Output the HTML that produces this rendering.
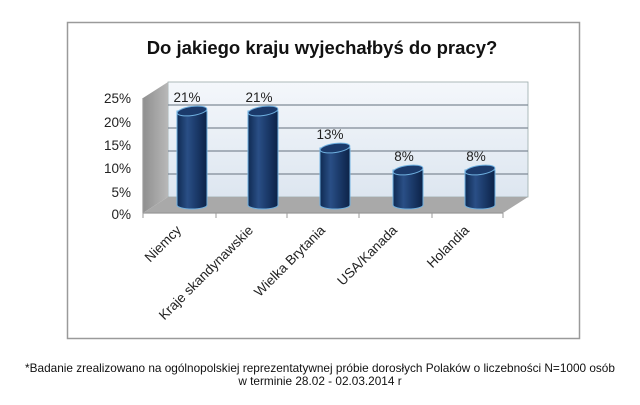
<!DOCTYPE html>
<html><head><meta charset="utf-8"><style>
body{margin:0;background:#fff;width:640px;height:405px;overflow:hidden;font-family:"Liberation Sans",sans-serif}
</style></head><body>
<svg width="640" height="405" xmlns="http://www.w3.org/2000/svg" style="position:absolute;left:0;top:0">
<defs>
<linearGradient id="bar" x1="0" x2="1" y1="0" y2="0">
<stop offset="0" stop-color="#0f2a52"/><stop offset="0.35" stop-color="#2a4f86"/><stop offset="0.6" stop-color="#1d3d6e"/><stop offset="1" stop-color="#0c2247"/></linearGradient>
<linearGradient id="wall" x1="0" x2="0" y1="0" y2="1"><stop offset="0" stop-color="#f4f7fb"/><stop offset="1" stop-color="#dde6f0"/></linearGradient>
<linearGradient id="side" x1="0" x2="1"><stop offset="0" stop-color="#8f8f8f"/><stop offset="1" stop-color="#b8b8b8"/></linearGradient>
</defs>
<rect x="67.5" y="22.5" width="512" height="316" fill="#fff" stroke="#9a9a9a" stroke-width="1.5"/>
<text x="322" y="54" text-anchor="middle" font-size="18.5" font-weight="bold" fill="#111">Do jakiego kraju wyjechałbyś do pracy?</text>
<rect x="168" y="82" width="360" height="115" fill="url(#wall)" stroke="#9aa" stroke-width="0.8"/>
<polygon points="143,98 168,82 168,197 143,213" fill="url(#side)"/>
<polygon points="143,213 168,197 528,197 503,213" fill="#a9a9a9"/>
<g stroke="#7f8a96" stroke-width="1.2">
<line x1="168" y1="105" x2="528" y2="105"/><line x1="168" y1="128" x2="528" y2="128"/>
<line x1="168" y1="151" x2="528" y2="151"/><line x1="168" y1="174" x2="528" y2="174"/>
<line x1="143" y1="213" x2="503" y2="213" stroke="#999"/>
<line x1="143" y1="98" x2="143" y2="213" stroke="#999"/>
</g>
<g stroke="#999" stroke-width="1">
<line x1="143" y1="213" x2="143" y2="218"/><line x1="216" y1="213" x2="216" y2="218"/>
<line x1="287" y1="213" x2="287" y2="218"/><line x1="359" y1="213" x2="359" y2="218"/>
<line x1="432" y1="213" x2="432" y2="218"/><line x1="503" y1="213" x2="503" y2="218"/>
</g>
<g font-size="13.5" fill="#222" text-anchor="end">
<text x="131" y="103">25%</text><text x="131" y="127">20%</text><text x="131" y="150">15%</text>
<text x="131" y="173">10%</text><text x="131" y="197">5%</text><text x="131" y="219">0%</text>
</g>
<g stroke="#6fb0e0" stroke-width="1">
<path d="M177,111 L177,205 A15,4 0 0 0 207,205 L207,111 Z" fill="url(#bar)"/>
<ellipse cx="192" cy="111" rx="15" ry="4.5" fill="#1b3a6b" transform="rotate(-8 192 111)"/>
<path d="M248,111 L248,205 A15,4 0 0 0 278,205 L278,111 Z" fill="url(#bar)"/>
<ellipse cx="263" cy="111" rx="15" ry="4.5" fill="#1b3a6b" transform="rotate(-8 263 111)"/>
<path d="M320,148 L320,205 A15,4 0 0 0 350,205 L350,148 Z" fill="url(#bar)"/>
<ellipse cx="335" cy="148" rx="15" ry="4.5" fill="#1b3a6b" transform="rotate(-8 335 148)"/>
<path d="M393,170 L393,205 A15,4 0 0 0 423,205 L423,170 Z" fill="url(#bar)"/>
<ellipse cx="408" cy="170" rx="15" ry="4.5" fill="#1b3a6b" transform="rotate(-8 408 170)"/>
<path d="M465,170 L465,205 A15,4 0 0 0 495,205 L495,170 Z" fill="url(#bar)"/>
<ellipse cx="480" cy="170" rx="15" ry="4.5" fill="#1b3a6b" transform="rotate(-8 480 170)"/>
</g>
<g font-size="13.5" fill="#222" text-anchor="middle">
<text x="187" y="102">21%</text><text x="259" y="102">21%</text><text x="330" y="139">13%</text>
<text x="404" y="161">8%</text><text x="476" y="161">8%</text>
</g>
<g font-size="13.5" fill="#222" text-anchor="end">
<text transform="translate(182,231) rotate(-45)">Niemcy</text>
<text transform="translate(254,231) rotate(-45)">Kraje skandynawskie</text>
<text transform="translate(326,231) rotate(-45)">Wielka Brytania</text>
<text transform="translate(398,231) rotate(-45)">USA/Kanada</text>
<text transform="translate(470,231) rotate(-45)">Holandia</text>
</g>
<g font-size="11.8" fill="#111" text-anchor="middle">
<text x="320" y="372">*Badanie zrealizowano na ogólnopolskiej reprezentatywnej próbie dorosłych Polaków o liczebności N=1000 osób</text>
<text x="320" y="385">w terminie 28.02 - 02.03.2014 r</text>
</g>
</svg>
</body></html>
